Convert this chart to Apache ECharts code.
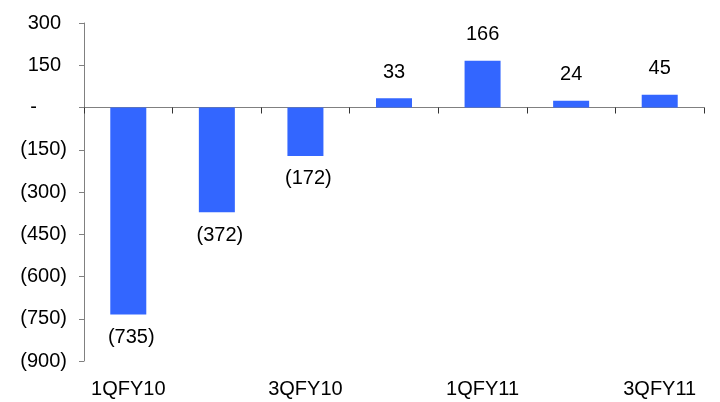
<!DOCTYPE html>
<html>
<head>
<meta charset="utf-8">
<script src="https://cdn.jsdelivr.net/npm/echarts@6/dist/echarts.min.js"></script>
<style>
  html, body { margin: 0; padding: 0; background: #fff; }
  #chart { width: 720px; height: 402px; }
</style>
</head>
<body>
<div id="chart"></div>
<script>
// Quarterly values
const quarters = ['1QFY10', '2QFY10', '3QFY10', '4QFY10', '1QFY11', '2QFY11', '3QFY11'];
const values = [-735, -372, -172, 33, 166, 24, 45];

// Value axis range
const yMin = -900;
const yMax = 300;
const yStep = 150;

// Accounting-style number: negatives in parentheses, zero as a dash
function fmt(v) {
  if (v < 0) return '(' + Math.abs(v) + ')';
  if (v === 0) return '-';
  return String(v);
}

const FONT = '"Liberation Sans", Arial, sans-serif';
const AXIS_GRAY = '#808080';

const chart = echarts.init(document.getElementById('chart'), null, { renderer: 'canvas' });

chart.setOption({
  animation: false,
  backgroundColor: '#ffffff',
  grid: { left: 84, right: 16, top: 23, bottom: 41, containLabel: false },
  xAxis: [
    {
      type: 'category',
      data: quarters,
      boundaryGap: true,
      axisLine: { onZero: true, lineStyle: { color: AXIS_GRAY, width: 1 } },
      axisTick: { show: true, inside: false, length: 6, lineStyle: { color: '#333' } },
      axisLabel: { show: false }
    },
    {
      type: 'category',
      data: quarters,
      position: 'bottom',
      boundaryGap: true,
      axisLine: { show: false, onZero: false },
      axisTick: { show: false },
      axisLabel: {
        show: true,
        interval: 1,
        margin: 18,
        color: '#000',
        fontFamily: FONT,
        fontSize: 20
      }
    }
  ],
  yAxis: {
    type: 'value',
    min: yMin,
    max: yMax,
    interval: yStep,
    splitLine: { show: false },
    axisLine: { show: true, lineStyle: { color: AXIS_GRAY, width: 1 } },
    axisTick: { show: true, length: 5, lineStyle: { color: AXIS_GRAY } },
    axisLabel: {
      margin: 17,
      color: '#000',
      fontFamily: FONT,
      fontSize: 20,
      formatter: function (v) {
        if (v < 0) return '{n|' + fmt(v) + '}';
        if (v === 0) return '{z|-}';
        return '{p|' + fmt(v) + '}';
      },
      rich: {
        n: { fontFamily: FONT, fontSize: 20, color: '#000' },
        p: { fontFamily: FONT, fontSize: 20, color: '#000', padding: [0, 6, 0, 0] },
        z: { fontFamily: FONT, fontSize: 20, color: '#000', padding: [0, 30, 0, 0] }
      }
    }
  },
  series: [
    {
      type: 'bar',
      xAxisIndex: 0,
      barWidth: 36,
      itemStyle: { color: '#3366FF' },
      data: values.map(function (v) {
        return {
          value: v,
          label: v < 0
            ? { position: 'bottom', distance: 13, offset: [3, 0] }
            : { position: 'top', distance: 16 }
        };
      }),
      label: {
        show: true,
        color: '#000',
        fontFamily: FONT,
        fontSize: 20,
        formatter: function (p) { return fmt(p.value); }
      }
    }
  ]
});
</script>
</body>
</html>
